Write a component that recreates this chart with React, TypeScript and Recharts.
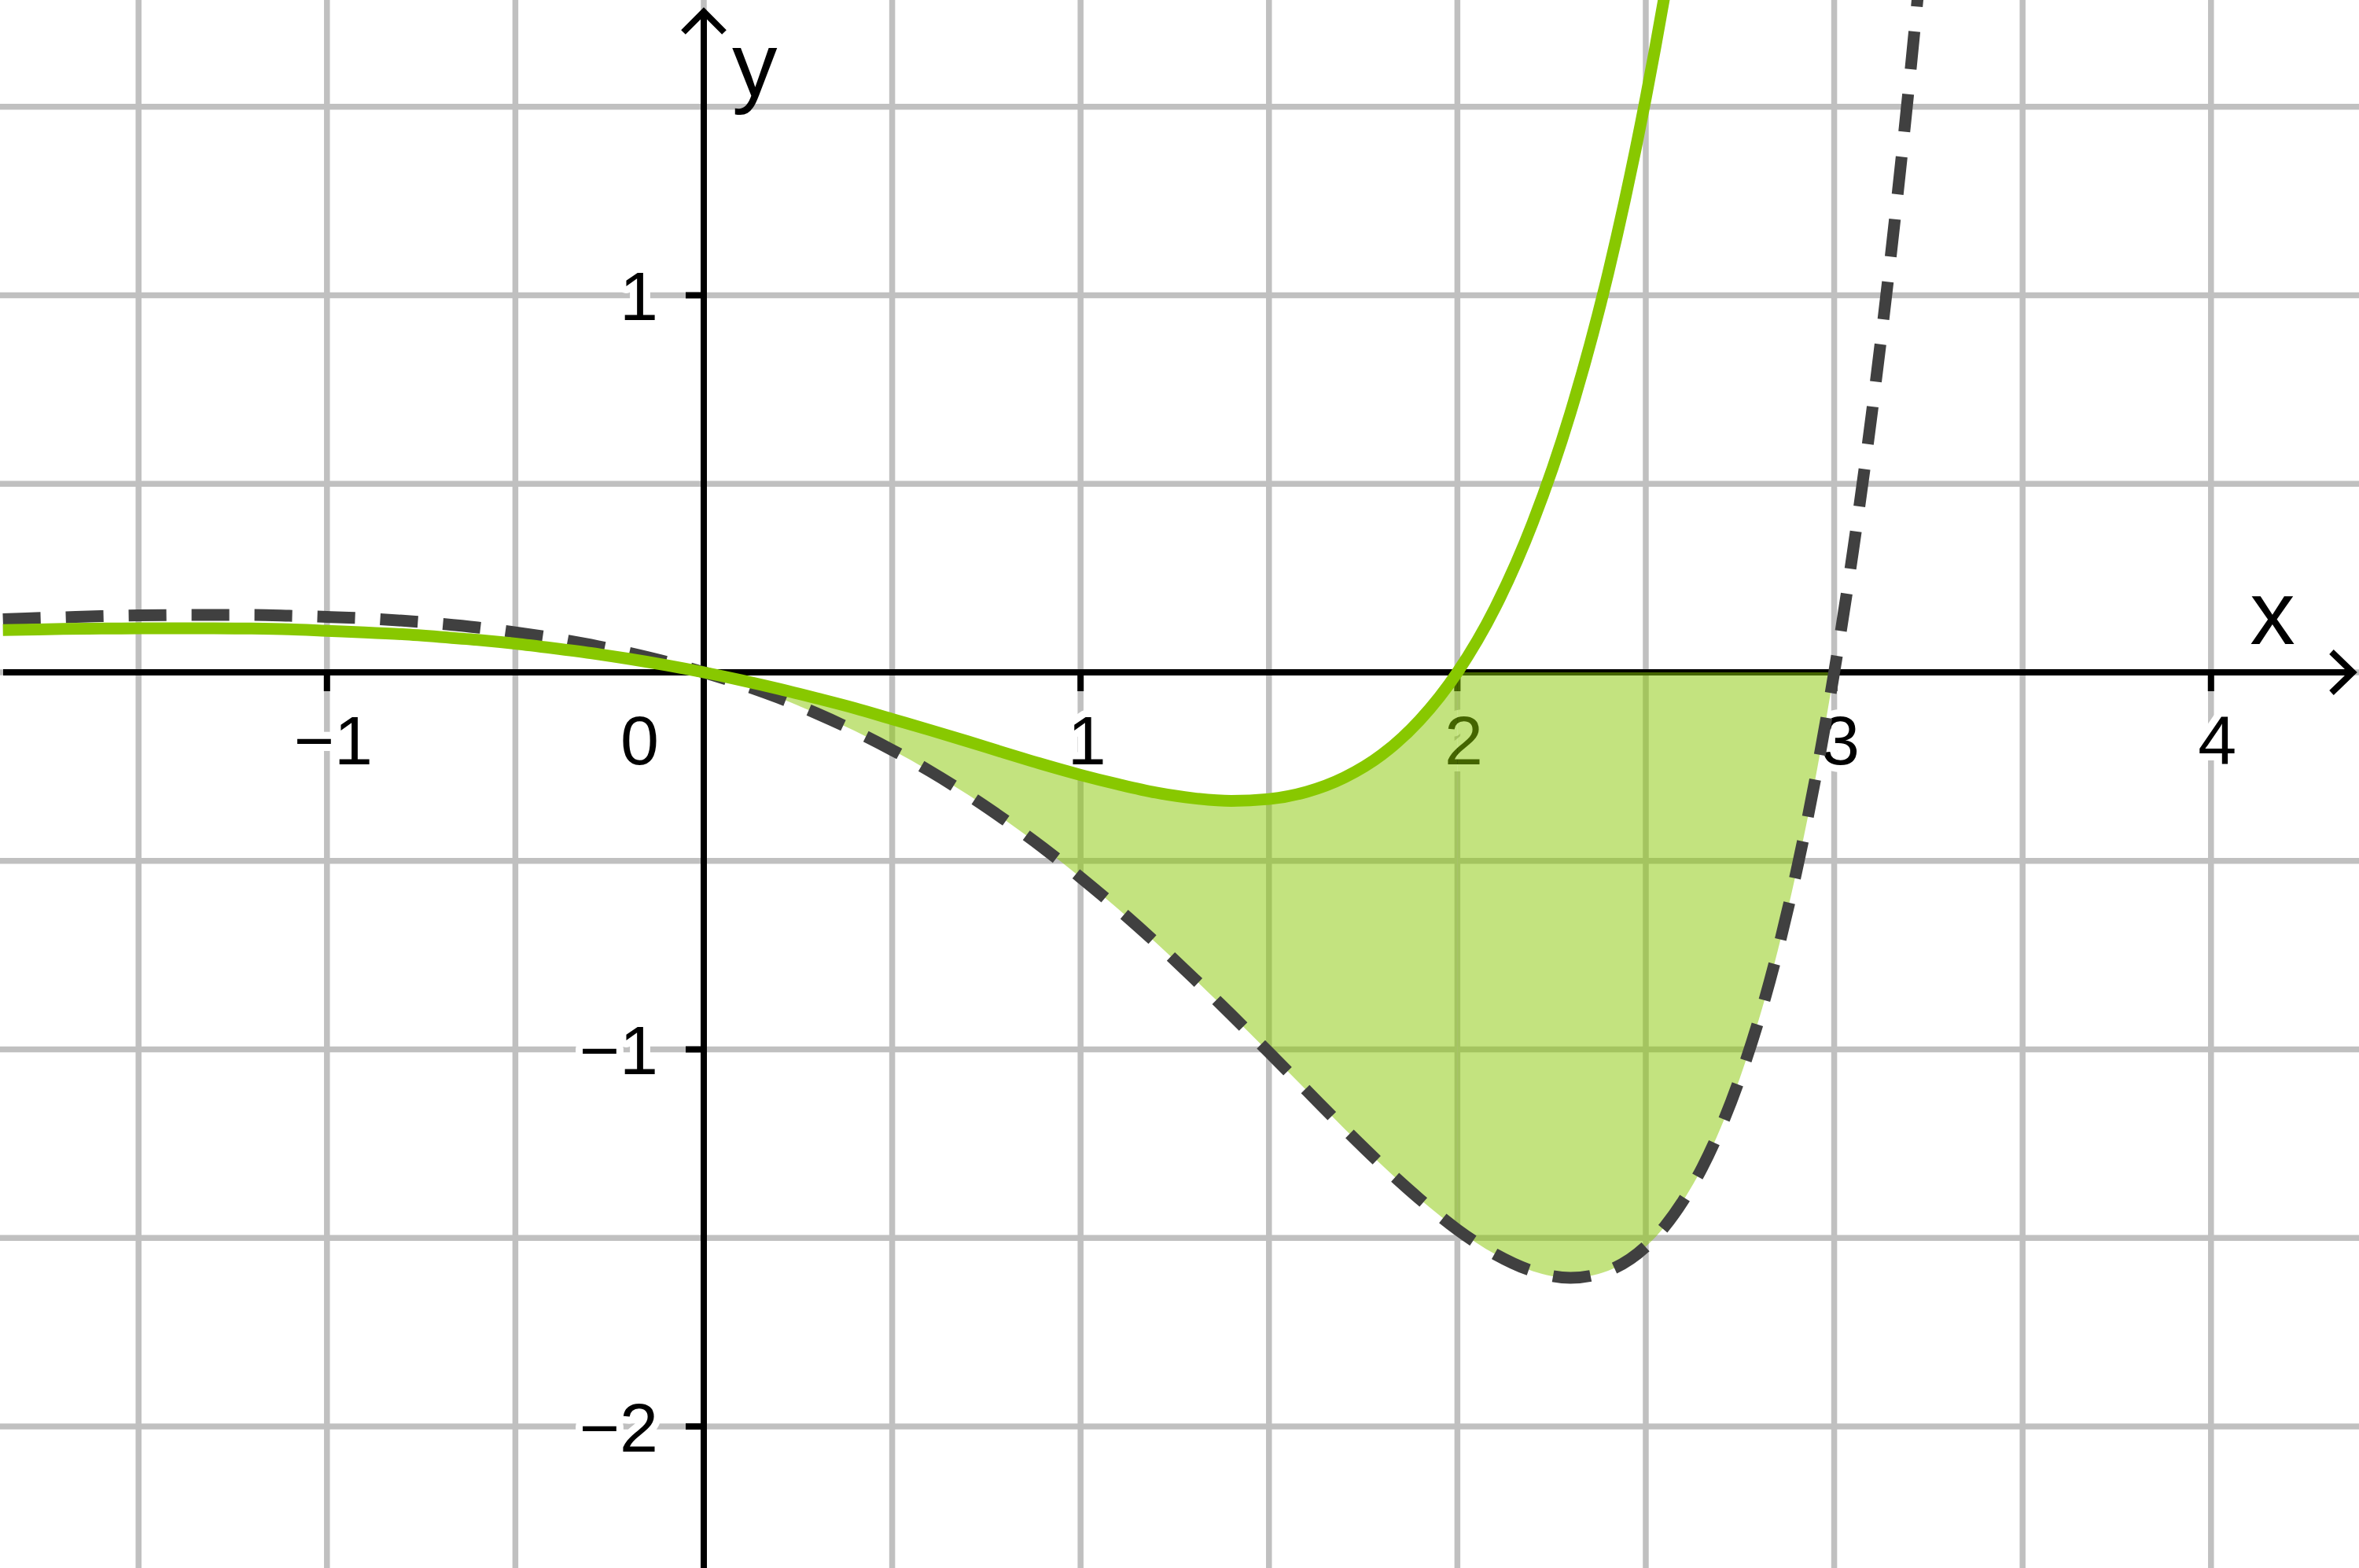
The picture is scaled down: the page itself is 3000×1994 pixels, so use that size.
import {
  ComposedChart,
  Line,
  Area,
  XAxis,
  YAxis,
  ReferenceLine,
  ReferenceDot,
} from 'recharts';

const X_VALUES = [
  -1.86, -1.8, -1.7, -1.6, -1.5, -1.4, -1.3, -1.2, -1.1, -1.0, -0.9, -0.8, -0.7, -0.6, -0.5, -0.4, -0.3, -0.2, -0.1,
  0, 0.1, 0.2, 0.3, 0.4, 0.5, 0.6, 0.7, 0.8, 0.9, 1.0, 1.1, 1.2, 1.3, 1.4, 1.5, 1.6, 1.7, 1.8, 1.9, 2.0,
  2.1, 2.2, 2.3, 2.4, 2.5, 2.55, 2.6, 2.65, 2.7, 2.75, 2.8, 2.85, 2.9, 2.95, 3.0, 3.05, 3.1, 3.15, 3.2, 3.25, 3.3,
];

// dashed dark curve
const DASHED_CURVE = [
  0.141, 0.143, 0.146, 0.149, 0.151, 0.152, 0.152, 0.152, 0.15, 0.147, 0.143, 0.137, 0.129, 0.119, 0.106, 0.091, 0.073, 0.052, 0.028,
  0, -0.032, -0.068, -0.109, -0.155, -0.206, -0.262, -0.324, -0.392, -0.465, -0.544, -0.628, -0.717, -0.811, -0.908, -1.008, -1.109, -1.21, -1.307, -1.397, -1.478,
  -1.543, -1.588, -1.606, -1.587, -1.523, -1.47, -1.4, -1.313, -1.205, -1.075, -0.921, -0.739, -0.527, -0.282, 0, 0.322, 0.688, 1.103, 1.57, 2.095, 2.684,
];

// solid green curve
const GREEN_CURVE = [
  0.112, 0.113, 0.115, 0.116, 0.117, 0.117, 0.117, 0.116, 0.114, 0.11, 0.106, 0.101, 0.094, 0.086, 0.076, 0.064, 0.051, 0.036, 0.019,
  0, -0.021, -0.044, -0.069, -0.095, -0.124, -0.153, -0.183, -0.214, -0.244, -0.272, -0.297, -0.319, -0.334, -0.341, -0.336, -0.317, -0.279, -0.218, -0.127, 0,
  0.171, 0.397, 0.688, 1.058, 1.523, 1.796, 2.1, 2.438, 2.812, null, null, null, null, null, null, null, null, null, null, null, null,
];

const FILL_START = 0;
const FILL_SWITCH = 2;
const FILL_END = 3;

const GRID_X = [-1.5, -1, -0.5, 0, 0.5, 1, 1.5, 2, 2.5, 3, 3.5, 4];
const GRID_Y = [-2, -1.5, -1, -0.5, 0, 0.5, 1, 1.5];

const X_TICKS = [-1, 1, 2, 3, 4];
const X_TICK_LABELS = ['\u22121', '1', '2', '3', '4'];
const Y_TICKS = [1, -1, -2];
const Y_TICK_LABELS = ['1', '\u22121', '\u22122'];

const X_DOMAIN = [-1.8677, 4.3928];
const Y_DOMAIN = [-2.3754, 1.7831];

const FONT = "'Liberation Sans', Arial, Helvetica, sans-serif";
const GREEN = '#88c800';

const data = X_VALUES.map((x, i) => ({
  x,
  dashed: DASHED_CURVE[i],
  green: GREEN_CURVE[i],
  bandLeft: x >= FILL_START && x <= FILL_SWITCH ? [DASHED_CURVE[i], GREEN_CURVE[i]] : null,
  bandRight: x >= FILL_SWITCH && x <= FILL_END ? [DASHED_CURVE[i], 0] : null,
}));

const labelStyle = {
  fontFamily: FONT,
  fill: '#000',
  stroke: '#fff',
  strokeWidth: 18,
  strokeLinejoin: 'round' as const,
  paintOrder: 'stroke' as const,
};

function XAxisArrow(props: any) {
  const { x1, x2, y1 } = props;
  const start = Math.min(x1, x2) + 4;
  const tip = Math.max(x1, x2) - 8;
  return (
    <g>
      <line x1={start} y1={y1} x2={tip} y2={y1} stroke="#000" strokeWidth={8} />
      <polyline
        points={`${tip - 27},${y1 - 26} ${tip},${y1} ${tip - 27},${y1 + 26}`}
        fill="none"
        stroke="#000"
        strokeWidth={8}
      />
      <text x={tip - 102} y={y1 - 36} textAnchor="middle" fontSize={115} fontFamily={FONT} fill="#000">
        x
      </text>
    </g>
  );
}

function YAxisArrow(props: any) {
  const { x1, y1, y2 } = props;
  const tip = Math.min(y1, y2) + 15;
  const end = Math.max(y1, y2);
  return (
    <g>
      <line x1={x1} y1={tip} x2={x1} y2={end} stroke="#000" strokeWidth={8} />
      <polyline
        points={`${x1 - 26},${tip + 26} ${x1},${tip} ${x1 + 26},${tip + 26}`}
        fill="none"
        stroke="#000"
        strokeWidth={8}
      />
      <text x={x1 + 36} y={122} textAnchor="start" fontSize={115} fontFamily={FONT} fill="#000">
        y
      </text>
    </g>
  );
}

function xTick(label: string) {
  return (props: any) => (
    <g>
      <line x1={props.cx} y1={props.cy} x2={props.cx} y2={props.cy + 24} stroke="#000" strokeWidth={8} />
      <text x={props.cx + 8} y={props.cy + 117} textAnchor="middle" fontSize={88} style={labelStyle}>
        {label}
      </text>
    </g>
  );
}

function yTick(label: string) {
  return (props: any) => (
    <g>
      <line x1={props.cx - 23} y1={props.cy} x2={props.cx} y2={props.cy} stroke="#000" strokeWidth={8} />
      <text x={props.cx - 58} y={props.cy + 32} textAnchor="end" fontSize={88} style={labelStyle}>
        {label}
      </text>
    </g>
  );
}

function originLabel(props: any) {
  return (
    <text x={props.cx - 57} y={props.cy + 117} textAnchor="end" fontSize={88} style={labelStyle}>
      0
    </text>
  );
}

export default function App() {
  return (
    <div style={{ position: 'absolute', left: 0, top: 0, width: 3000, height: 1994, background: '#fff' }}>
      <ComposedChart width={3000} height={1994} data={data} margin={{ top: 0, right: 0, bottom: 0, left: 0 }}>
        <XAxis type="number" dataKey="x" domain={X_DOMAIN} allowDataOverflow hide />
        <YAxis type="number" domain={Y_DOMAIN} allowDataOverflow hide />

        {GRID_X.map((v) => (
          <ReferenceLine key={`gx${v}`} x={v} stroke="#c0c0c0" strokeWidth={7.5} zIndex={-100} />
        ))}
        {GRID_Y.map((v) => (
          <ReferenceLine key={`gy${v}`} y={v} stroke="#c0c0c0" strokeWidth={7.5} zIndex={-100} />
        ))}

        <ReferenceLine y={0} shape={XAxisArrow} zIndex={10} />
        <ReferenceLine x={0} shape={YAxisArrow} zIndex={10} />

        {X_TICKS.map((v, i) => (
          <ReferenceDot key={`xt${v}`} x={v} y={0} shape={xTick(X_TICK_LABELS[i])} zIndex={20} />
        ))}
        {Y_TICKS.map((v, i) => (
          <ReferenceDot key={`yt${v}`} x={0} y={v} shape={yTick(Y_TICK_LABELS[i])} zIndex={20} />
        ))}
        <ReferenceDot x={0} y={0} shape={originLabel} zIndex={20} />

        <Area
          type="monotone"
          dataKey="bandLeft"
          stroke="none"
          fill={GREEN}
          fillOpacity={0.5}
          isAnimationActive={false}
          activeDot={false}
          zIndex={100}
        />
        <Area
          type="monotone"
          dataKey="bandRight"
          stroke="none"
          fill={GREEN}
          fillOpacity={0.5}
          isAnimationActive={false}
          activeDot={false}
          zIndex={100}
        />

        <Line
          type="monotone"
          dataKey="dashed"
          stroke="#404040"
          strokeWidth={15}
          strokeDasharray="48 32"
          dot={false}
          activeDot={false}
          isAnimationActive={false}
          zIndex={400}
        />
        <Line
          type="monotone"
          dataKey="green"
          stroke={GREEN}
          strokeWidth={15}
          dot={false}
          activeDot={false}
          isAnimationActive={false}
          zIndex={410}
        />
      </ComposedChart>
    </div>
  );
}
